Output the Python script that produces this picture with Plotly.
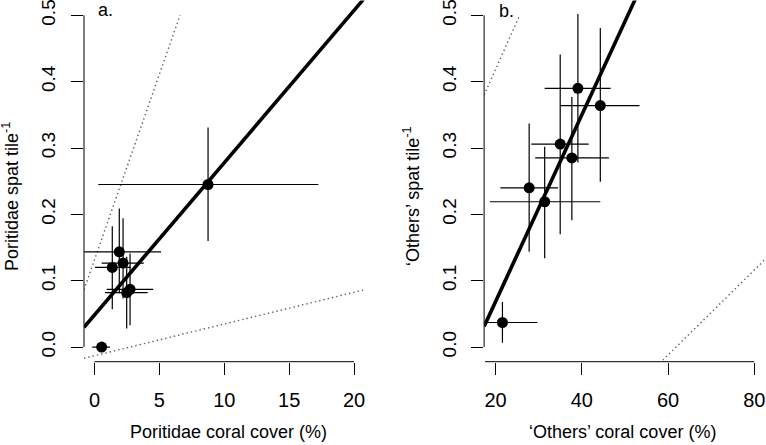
import numpy as np
import plotly.graph_objects as go

# ---------------- data ----------------
# Panel a: Poritidae
a_x = [8.75, 1.91, 1.37, 2.20, 2.48, 2.74, 0.55]
a_y = [0.245, 0.1435, 0.120, 0.1265, 0.082, 0.087, 0.000]
a_x_lo = [0.29, -0.80, 0.04, 0.55, 0.81, 0.94, -0.17]
a_x_hi = [17.25, 5.13, 2.79, 3.80, 4.10, 4.53, 1.19]
a_y_lo = [0.160, 0.081, 0.057, 0.073, 0.028, 0.033, 0.000]
a_y_hi = [0.331, 0.209, 0.182, 0.194, 0.136, 0.141, 0.000]
a_fit = (0.0483, 0.02295)          # intercept, slope
a_upper = (0.1316, 0.0559)
a_lower = (-0.0131, 0.00478)

# Panel b: 'Others'
b_x = [21.6, 27.8, 31.4, 35.0, 37.7, 39.1, 44.3]
b_y = [0.037, 0.240, 0.219, 0.306, 0.285, 0.390, 0.364]
b_x_lo = [17.9, 21.1, 18.7, 28.3, 29.2, 31.4, 35.1]
b_x_hi = [29.7, 34.5, 44.3, 41.6, 46.3, 46.7, 53.4]
b_y_lo = [0.0065, 0.1435, 0.134, 0.170, 0.191, 0.278, 0.249]
b_y_hi = [0.068, 0.337, 0.302, 0.441, 0.377, 0.502, 0.481]
b_fit = (-0.213, 0.01407)
b_upper = (0.127, 0.01457)
b_lower = (-0.396, 0.00640)

a_xticks = [0, 5, 10, 15, 20]
b_xticks = [20, 40, 60, 80]
yticks = [0.0, 0.1, 0.2, 0.3, 0.4, 0.5]
ytick_text = ["0.0", "0.1", "0.2", "0.3", "0.4", "0.5"]

a_xrange = [-0.81, 20.8]
b_xrange = [17.35, 82.4]
yrange = [-0.0221, 0.5225]

FONT = "Liberation Sans, Arial, Helvetica, sans-serif"
W, H = 766, 445

fig = go.Figure()


def add_panel(fig, xs, ys, xlo, xhi, ylo, yhi, fit, upper, lower, xr, xa, ya):
    xs = np.array(xs); ys = np.array(ys)
    xlo = np.array(xlo); xhi = np.array(xhi)
    ylo = np.array(ylo); yhi = np.array(yhi)
    # dotted bound lines (drawn up to y = 0.5)
    for b0, b1 in (upper, lower):
        x0 = xr[0]
        x1 = min(xr[1], (0.5 - b0) / b1)
        xx = np.array([x0, x1])
        fig.add_trace(go.Scatter(x=xx, y=b0 + b1 * xx, mode="lines",
                                 line=dict(color="#5e5e5e", width=1.4, dash="1.4px,3px"),
                                 xaxis=xa, yaxis=ya, showlegend=False, hoverinfo="skip"))
    # fitted line
    xx = np.array(xr)
    fig.add_trace(go.Scatter(x=xx, y=fit[0] + fit[1] * xx, mode="lines",
                             line=dict(color="black", width=3.6),
                             xaxis=xa, yaxis=ya, showlegend=False, hoverinfo="skip"))
    # points with error bars
    fig.add_trace(go.Scatter(
        x=xs, y=ys, mode="markers",
        marker=dict(color="black", size=11, line=dict(width=0)),
        error_x=dict(type="data", symmetric=False, array=xhi - xs, arrayminus=xs - xlo,
                     width=0, thickness=1.2, color="black"),
        error_y=dict(type="data", symmetric=False, array=yhi - ys, arrayminus=ys - ylo,
                     width=0, thickness=1.2, color="black"),
        xaxis=xa, yaxis=ya, showlegend=False))


add_panel(fig, a_x, a_y, a_x_lo, a_x_hi, a_y_lo, a_y_hi, a_fit, a_upper, a_lower, a_xrange, "x", "y")
add_panel(fig, b_x, b_y, b_x_lo, b_x_hi, b_y_lo, b_y_hi, b_fit, b_upper, b_lower, b_xrange, "x2", "y2")

ydom = [1 - 361.7 / H, 1 - 0.4 / H]
ax_common = dict(showgrid=False, zeroline=False, showline=False, ticks="outside",
                 ticklen=12, tickwidth=1, tickcolor="black", ticklabeloverflow="allow",
                 automargin=False)
xfont = dict(family=FONT, size=20, color="black")
yfont = dict(family=FONT, size=19, color="black")

fig.update_layout(
    width=W, height=H, margin=dict(l=0, r=0, t=0, b=0),
    plot_bgcolor="white", paper_bgcolor="white",
    xaxis=dict(domain=[84.0 / W, 364.4 / W], range=a_xrange, tickvals=a_xticks,
               anchor="y", ticklabelstandoff=8, tickfont=xfont, **ax_common),
    yaxis=dict(domain=ydom, range=yrange, tickvals=yticks, ticktext=ytick_text,
               tickangle=-90, anchor="x", ticklabelstandoff=8, tickfont=yfont, **ax_common),
    xaxis2=dict(domain=[484.1 / W, 764.6 / W], range=b_xrange, tickvals=b_xticks,
                anchor="y2", ticklabelstandoff=8, tickfont=xfont, **ax_common),
    yaxis2=dict(domain=ydom, range=yrange, tickvals=yticks, ticktext=ytick_text,
                tickangle=-90, anchor="x2", ticklabelstandoff=8, tickfont=yfont, **ax_common),
)

# axis lines (spanning tick range, R style)
shapes = [
    dict(type="line", xref="x domain", yref="y", x0=0, x1=0, y0=yticks[0], y1=yticks[-1],
         line=dict(color="black", width=1)),
    dict(type="line", xref="x", yref="y domain", x0=a_xticks[0], x1=a_xticks[-1], y0=0, y1=0,
         line=dict(color="black", width=1)),
    dict(type="line", xref="x2 domain", yref="y2", x0=0, x1=0, y0=yticks[0], y1=yticks[-1],
         line=dict(color="black", width=1)),
    dict(type="line", xref="x2", yref="y2 domain", x0=b_xrange[0] + 0.2, x1=b_xticks[-1], y0=0, y1=0,
         line=dict(color="black", width=1)),
]
fig.update_layout(shapes=shapes)

tfont = dict(family=FONT, size=18, color="black")
annots = [
    dict(text="Poritidae coral cover (%)", x=228 / W, y=1 - 432 / H, xref="paper", yref="paper",
         showarrow=False, font=tfont, xanchor="center", yanchor="middle"),
    dict(text="‘Others’ coral cover (%)", x=622 / W, y=1 - 432 / H, xref="paper", yref="paper",
         showarrow=False, font=tfont, xanchor="center", yanchor="middle"),
    dict(text="Poritidae spat tile<sup>-1</sup>", x=11 / W, y=1 - 197 / H, xref="paper", yref="paper",
         showarrow=False, font=tfont, textangle=-90, xanchor="center", yanchor="middle"),
    dict(text="‘Others’ spat tile<sup>-1</sup>", x=411 / W, y=1 - 196 / H, xref="paper", yref="paper",
         showarrow=False, font=tfont, textangle=-90, xanchor="center", yanchor="middle"),
    dict(text="a.", x=105 / W, y=1 - 10 / H, xref="paper", yref="paper",
         showarrow=False, font=tfont, xanchor="center", yanchor="middle"),
    dict(text="b.", x=506 / W, y=1 - 11 / H, xref="paper", yref="paper",
         showarrow=False, font=tfont, xanchor="center", yanchor="middle"),
]
fig.update_layout(annotations=annots)

fig.write_html("out.html", config={"displayModeBar": False},
               post_script="document.body.style.margin='0';document.body.style.padding='0';"
                           "document.body.style.overflow='hidden';")
